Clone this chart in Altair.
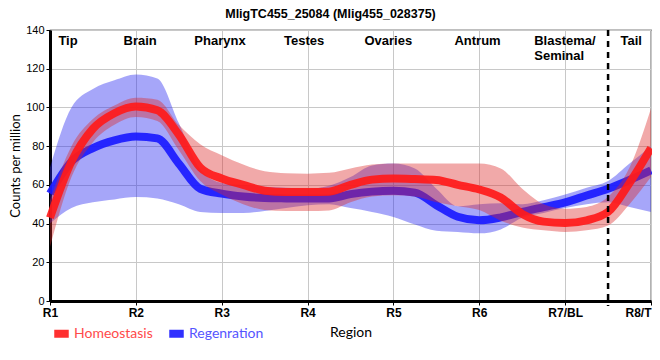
import json
import altair as alt
import pandas as pd

# ---- data ----
x_pos = [1.0, 1.25, 1.5, 1.75, 2.0, 2.25, 2.5, 2.75, 3.0, 3.25, 3.5, 3.75, 4.0, 4.25,
         4.5, 4.75, 5.0, 5.25, 5.5, 5.75, 6.0, 6.25, 6.5, 6.75, 7.0, 7.25, 7.5, 7.75, 8.0]

homeo_mean = [43, 72, 89, 97, 100.5, 98.5, 86, 69, 63.3, 60, 57, 56.3, 56.3, 56.5,
              60, 62.7, 63.3, 63, 62.5, 60, 57.6, 53.5, 45, 41, 40.3, 41.7, 46, 61, 79]
homeo_lo = [28, 64, 82, 91, 95, 93, 78, 62, 55, 50, 47, 46.5, 46.5, 46.8,
            51, 54, 54.6, 54, 51, 49, 47, 41.5, 38, 36.5, 35.7, 36.5, 39, 50, 64]
homeo_hi = [52, 80, 94, 101, 105, 104, 91, 81, 75.3, 70.5, 67, 66, 65.8, 66.2,
            68.5, 70.5, 71, 71, 71, 71, 71, 68.5, 58, 50, 47.7, 48.6, 53.8, 69, 99.5]

regen_mean = [55.5, 72, 79, 83, 85, 84, 71, 58, 55.5, 54, 53.2, 53, 52.9, 53,
              55.2, 56.5, 56.9, 56, 49.5, 43.5, 41.7, 43.2, 46, 48.5, 51, 54.5, 58, 62.5, 67.5]
regen_lo = [40, 48, 51, 52.5, 53.7, 53, 50, 46, 45.5, 45.5, 46.5, 48, 49.5, 50,
            48, 46, 43.4, 39.5, 36.3, 35.7, 35, 37, 43, 45.5, 48, 50, 51, 48.6, 46]
regen_hi = [69, 100, 109.5, 114, 117, 115, 92, 68, 61, 60, 59, 58.5, 58, 59.5,
            64, 70, 71, 68.4, 58, 49, 50, 50.5, 50, 52, 55, 58.5, 62, 71, 80]

series_names = ["Homeostasis", "Regenration"]
tick_values = [1, 2, 3, 4, 5, 6, 7, 8]
tick_labels = ["R1", "R2", "R3", "R4", "R5", "R6", "R7/BL", "R8/T"]
y_ticks = [0, 20, 40, 60, 80, 100, 120, 140]

region_names = ["Tip", "Brain", "Pharynx", "Testes", "Ovaries", "Antrum", "Tail"]
region_x = [1.21, 2.05, 2.98, 3.96, 4.94, 5.98, 7.77]
blastema_lines = ["Blastema/", "Seminal"]
blastema_x = [6.64]
label_y = 134.5
divider_x = [7.5]

# ---- tables ----
rows = []
for name, mean, lo, hi in [(series_names[0], homeo_mean, homeo_lo, homeo_hi),
                           (series_names[1], regen_mean, regen_lo, regen_hi)]:
    for x, m, l, h in zip(x_pos, mean, lo, hi):
        rows.append({"x": x, "mean": m, "lo": l, "hi": h, "series": name})
df = pd.DataFrame(rows)

regions_df = pd.DataFrame({"x": region_x, "name": region_names, "y": [label_y] * len(region_x)})
blast_df = pd.DataFrame({"x": blastema_x, "name": [blastema_lines], "y": [label_y]})
div_df = pd.DataFrame({"x": divider_x})

RED_LINE = "#ff1a1a"
BLUE_LINE = "#1a1aff"
RED_BAND = "rgb(220,40,40)"
BLUE_BAND = "rgb(40,40,240)"

label_expr = json.dumps(tick_labels) + "[datum.value - 1]"

x_scale = alt.Scale(domain=[1, 8], nice=False, zero=False)
x_axis = alt.Axis(
    values=tick_values, labelExpr=label_expr, title="Region",
    grid=True, gridColor="#c8c8c8", gridWidth=1,
    domainColor="black", domainWidth=3, tickColor="black", tickSize=4,
    labelFont="Liberation Sans", labelFontWeight="bold", labelFontSize=12,
    labelColor="black", labelPadding=2, labelFlush=False,
    labelAlign={"condition": {"test": "datum.value == 8", "value": "right"}, "value": "center"},
    titleFont="Lato", titleFontWeight="normal", titleFontSize=14,
    titleColor="black", titlePadding=7,
)
y_scale = alt.Scale(domain=[0, 140], nice=False)
y_axis = alt.Axis(
    values=y_ticks, title="Counts per million",
    grid=True, gridColor="#c8c8c8", gridWidth=1,
    domainColor="black", domainWidth=3, tickColor="black", tickSize=4,
    labelFont="Liberation Sans", labelFontSize=11, labelColor="black", labelPadding=2,
    titleFont="Lato", titleFontWeight="normal", titleFontSize=13, titleColor="black",
    titlePadding=3,
)


def X(field="x"):
    return alt.X(f"{field}:Q", scale=x_scale, axis=x_axis)


def Y(field):
    return alt.Y(f"{field}:Q", scale=y_scale, axis=y_axis)


base = alt.Chart(df)

blue_band = base.transform_filter(alt.datum.series == series_names[1]).mark_area(
    color=BLUE_BAND, opacity=0.41, interpolate="monotone"
).encode(x=X(), y=Y("lo"), y2="hi:Q")

red_band = base.transform_filter(alt.datum.series == series_names[0]).mark_area(
    color=RED_BAND, opacity=0.4, interpolate="monotone"
).encode(x=X(), y=Y("lo"), y2="hi:Q")

color_enc = alt.Color(
    "series:N",
    scale=alt.Scale(domain=series_names, range=[RED_LINE, BLUE_LINE]),
    legend=alt.Legend(
        title=None, orient="none", legendX=0, legendY=292, direction="horizontal",
        symbolType="stroke", symbolStrokeWidth=8, symbolSize=210, symbolOpacity=0.9,
        labelFont="Lato", labelFontSize=14, labelOffset=1, columnPadding=0,
        labelColor={"expr": "datum.label == 'Homeostasis' ? '#ff4a4a' : '#5555ff'"},
    ),
)

blue_line = base.transform_filter(alt.datum.series == series_names[1]).mark_line(
    strokeWidth=8, opacity=0.92, interpolate="monotone"
).encode(x=X(), y=Y("mean"), color=color_enc)

red_line = base.transform_filter(alt.datum.series == series_names[0]).mark_line(
    strokeWidth=8, opacity=0.92, interpolate="monotone"
).encode(x=X(), y=Y("mean"), color=color_enc)

divider = alt.Chart(div_df).mark_rule(
    color="black", strokeWidth=2.5, strokeDash=[6, 5], clip=False
).encode(x=X(), y=alt.value(0), y2=alt.value(276))

region_text = alt.Chart(regions_df).mark_text(
    font="Liberation Sans", fontWeight="bold", fontSize=13, color="black",
    align="center", baseline="middle"
).encode(x=X(), y=Y("y"), text="name:N")

blast_text = alt.Chart(blast_df).mark_text(
    font="Liberation Sans", fontWeight="bold", fontSize=13, color="black",
    align="left", baseline="middle", lineHeight=15
).encode(x=X(), y=Y("y"), text="name")

chart = alt.layer(
    blue_band, blue_line, red_band, red_line, divider, region_text, blast_text
).properties(
    width=601, height=271,
    title=alt.TitleParams(
        "MligTC455_25084 (Mlig455_028375)", font="Liberation Sans", fontSize=12.5,
        fontWeight="bold", color="black", anchor="middle", dx=-20, offset=4,
    ),
    autosize=alt.AutoSizeParams(type="none"),
    padding={"left": 42, "top": 22, "right": 1, "bottom": 50},
).configure_view(stroke="black", strokeWidth=1.2)

chart.save("out.html", embed_options={"renderer": "svg", "actions": False})
